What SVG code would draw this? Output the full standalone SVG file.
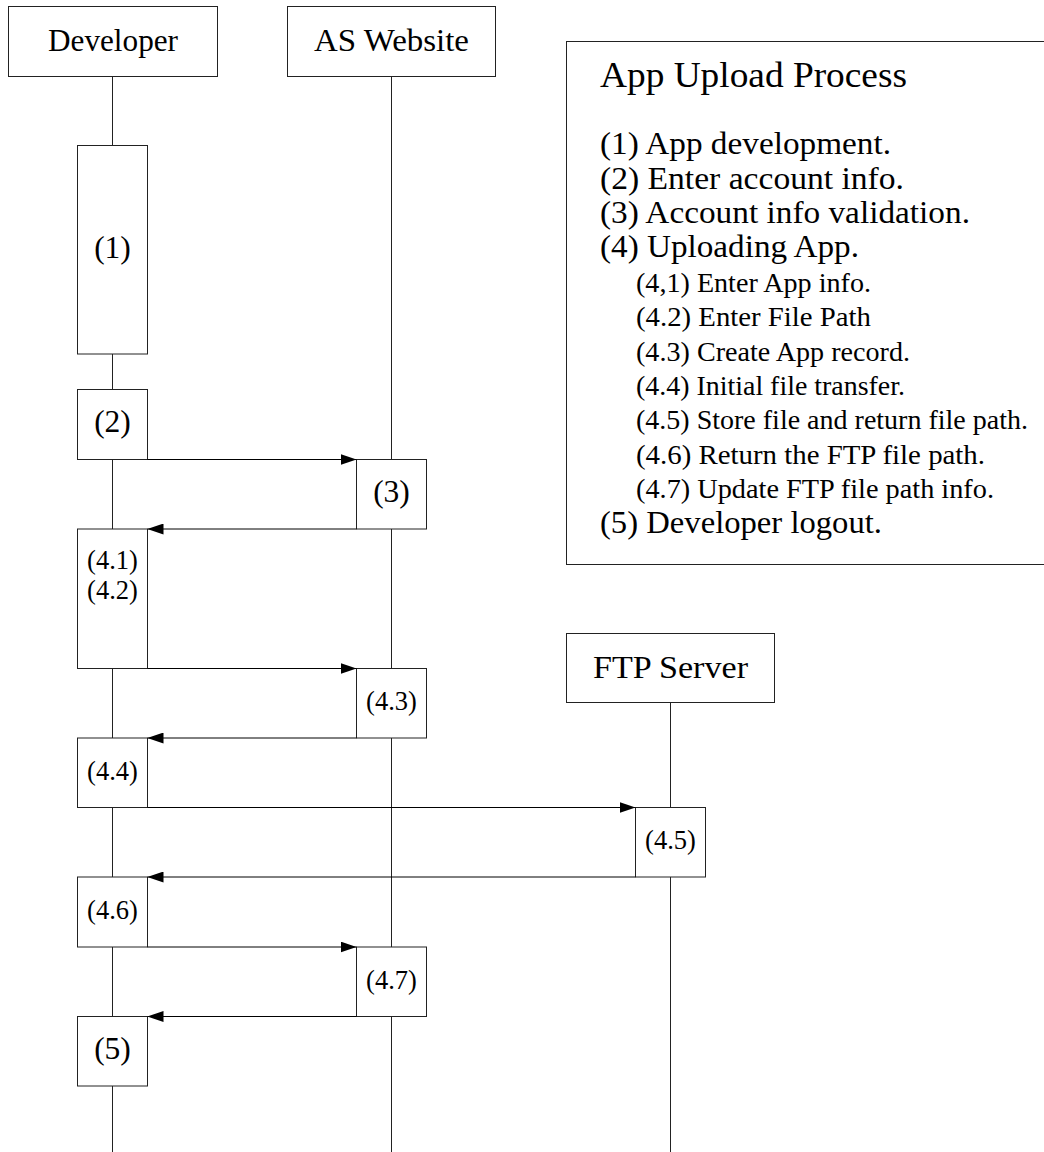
<svg xmlns="http://www.w3.org/2000/svg" width="1044" height="1152" viewBox="0 0 1044 1152">
<style>
  text { font-family: "Liberation Serif", "Times New Roman", serif; fill: #000; }
  .big { font-size: 31.5px; }
  .sm { font-size: 26.5px; }
  .title { font-size: 35px; }
  .mid { text-anchor: middle; }
  .box { fill: #fff; stroke: #222; stroke-width: 1; }
  .life { stroke: #222; stroke-width: 1; fill: none; }
  .msg { stroke: #000; stroke-width: 1; fill: none; }
</style>
<defs>
  <marker id="ah" viewBox="0 0 16 11" refX="16" refY="5.5" markerWidth="16" markerHeight="11" markerUnits="userSpaceOnUse" orient="auto">
    <path d="M0,0 L16,5.5 L0,11 Z" fill="#000"/>
  </marker>
</defs>
<rect width="1044" height="1152" fill="#fff"/>

<g id="lifelines">
  <line class="life" x1="112.5" y1="76.5" x2="112.5" y2="1152"/>
  <line class="life" x1="391.5" y1="76.5" x2="391.5" y2="1152"/>
  <line class="life" x1="670.5" y1="702.5" x2="670.5" y2="1152"/>
</g>

<g id="developer">
  <rect class="box" x="8.5" y="6.5" width="209" height="70"/>
  <text class="big mid" x="113" y="51" textLength="130" lengthAdjust="spacingAndGlyphs">Developer</text>
</g>
<g id="as-website">
  <rect class="box" x="287.5" y="6.5" width="208" height="70"/>
  <text class="big mid" x="391.5" y="51" textLength="155" lengthAdjust="spacingAndGlyphs">AS Website</text>
</g>
<g id="ftp-server">
  <rect class="box" x="566.5" y="633.5" width="208" height="69"/>
  <text class="big mid" x="670.5" y="678" textLength="155" lengthAdjust="spacingAndGlyphs">FTP Server</text>
</g>

<g id="act-1">
  <rect class="box" x="77.5" y="145.5" width="70" height="208.5"/>
  <text class="big mid" x="112.5" y="258">(1)</text>
</g>
<g id="act-2">
  <rect class="box" x="77.5" y="389.5" width="70" height="70"/>
  <text class="big mid" x="112.5" y="432">(2)</text>
</g>
<g id="act-3">
  <rect class="box" x="356.5" y="459.5" width="70" height="69.5"/>
  <text class="big mid" x="391.5" y="501.5">(3)</text>
</g>
<g id="act-4-1">
  <rect class="box" x="77.5" y="529" width="70" height="139.5"/>
  <text class="sm mid" x="112.5" y="569">(4.1)</text>
  <text class="sm mid" x="112.5" y="599">(4.2)</text>
</g>
<g id="act-4-3">
  <rect class="box" x="356.5" y="668.5" width="70" height="69.5"/>
  <text class="sm mid" x="391.5" y="710">(4.3)</text>
</g>
<g id="act-4-4">
  <rect class="box" x="77.5" y="738" width="70" height="69.5"/>
  <text class="sm mid" x="112.5" y="780">(4.4)</text>
</g>
<g id="act-4-5">
  <rect class="box" x="635.5" y="807.5" width="70" height="69.5"/>
  <text class="sm mid" x="670.5" y="849">(4.5)</text>
</g>
<g id="act-4-6">
  <rect class="box" x="77.5" y="877" width="70" height="70"/>
  <text class="sm mid" x="112.5" y="919">(4.6)</text>
</g>
<g id="act-4-7">
  <rect class="box" x="356.5" y="947" width="70" height="69.5"/>
  <text class="sm mid" x="391.5" y="988.5">(4.7)</text>
</g>
<g id="act-5">
  <rect class="box" x="77.5" y="1016.5" width="70" height="69.5"/>
  <text class="big mid" x="112.5" y="1058.5">(5)</text>
</g>

<g id="connectors">
  <line class="msg" x1="147.5" y1="459.5" x2="356.5" y2="459.5" marker-end="url(#ah)"/>
  <line class="msg" x1="356.5" y1="529" x2="147.5" y2="529" marker-end="url(#ah)"/>
  <line class="msg" x1="147.5" y1="668.5" x2="356.5" y2="668.5" marker-end="url(#ah)"/>
  <line class="msg" x1="356.5" y1="738" x2="147.5" y2="738" marker-end="url(#ah)"/>
  <line class="msg" x1="147.5" y1="807.5" x2="635.5" y2="807.5" marker-end="url(#ah)"/>
  <line class="msg" x1="635.5" y1="877" x2="147.5" y2="877" marker-end="url(#ah)"/>
  <line class="msg" x1="147.5" y1="947" x2="356.5" y2="947" marker-end="url(#ah)"/>
  <line class="msg" x1="356.5" y1="1016.5" x2="147.5" y2="1016.5" marker-end="url(#ah)"/>
</g>

<g id="legend">
  <rect class="box" x="566.5" y="41.5" width="500" height="523"/>
  <text class="title" x="600" y="87" textLength="307" lengthAdjust="spacingAndGlyphs">App Upload Process</text>
  <text class="big" x="600" y="154" textLength="291" lengthAdjust="spacingAndGlyphs">(1) App development.</text>
  <text class="big" x="600" y="188.5" textLength="304" lengthAdjust="spacingAndGlyphs">(2) Enter account info.</text>
  <text class="big" x="600" y="222.5" textLength="370" lengthAdjust="spacingAndGlyphs">(3) Account info validation.</text>
  <text class="big" x="600" y="256.5" textLength="259" lengthAdjust="spacingAndGlyphs">(4) Uploading App.</text>
  <text class="sm" x="636" y="291.5" textLength="235" lengthAdjust="spacingAndGlyphs">(4,1) Enter App info.</text>
  <text class="sm" x="636" y="326" textLength="235" lengthAdjust="spacingAndGlyphs">(4.2) Enter File Path</text>
  <text class="sm" x="636" y="360.5" textLength="274" lengthAdjust="spacingAndGlyphs">(4.3) Create App record.</text>
  <text class="sm" x="636" y="394.5" textLength="269" lengthAdjust="spacingAndGlyphs">(4.4) Initial file transfer.</text>
  <text class="sm" x="636" y="429" textLength="392" lengthAdjust="spacingAndGlyphs">(4.5) Store file and return file path.</text>
  <text class="sm" x="636" y="463.5" textLength="349" lengthAdjust="spacingAndGlyphs">(4.6) Return the FTP file path.</text>
  <text class="sm" x="636" y="497.5" textLength="358" lengthAdjust="spacingAndGlyphs">(4.7) Update FTP file path info.</text>
  <text class="big" x="600" y="533" textLength="282" lengthAdjust="spacingAndGlyphs">(5) Developer logout.</text>
</g>
</svg>
